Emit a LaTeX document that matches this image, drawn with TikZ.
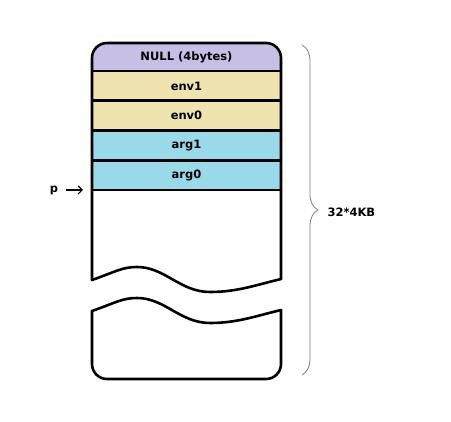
\documentclass[tikz,border=0pt]{standalone}
\usepackage{fontspec}
\setmainfont{DejaVu Sans}
\usetikzlibrary{positioning,arrows.meta,decorations.pathreplacing}
\definecolor{nullcol}{HTML}{C8BFE7}
\definecolor{envcol}{HTML}{EFE4B0}
\definecolor{argcol}{HTML}{99D9EA}

\begin{document}
\begin{tikzpicture}[x=1pt,y=-1pt]
      \tikzset{
        node distance=29.75pt,
        every node/.style={font=\fontsize{11.5}{13}\selectfont\bfseries},
        cell/.style={rectangle,draw,line width=2.6pt,outer sep=0pt,inner sep=0pt,minimum width=189pt,minimum height=29.75pt},
        outline/.style={line width=2.6pt,line join=round,line cap=round}
      }
      \useasboundingbox (0,0) rectangle (451,422);

      \fill[nullcol,rounded corners=15pt] (92,71) -- (92,43) -- (281,43) -- (281,71);
      \node (null) at (186.5,57) {NULL (4bytes)};

      \node[cell,fill=envcol] (env1) at (186.5,85.9) {env1};
      \node[cell,fill=envcol,below of=env1] (env0) {env0};
      \node[cell,fill=argcol,below of=env0] (arg1) {arg1};
      \node[cell,fill=argcol,below of=arg1] (arg0) {arg0};

      % upper part of the stack, torn at the bottom
      \draw[outline,rounded corners=15pt] (281,279) -- (281,43) -- (92,43) -- (92,280);
      \draw[outline] (92,280) .. controls (115,272) and (122,267) .. (137,267)
            .. controls (165,267) and (180,292) .. (210,292)
            .. controls (237,292) and (256,285) .. (281,279);

      % lower part of the stack
      \draw[outline,rounded corners=15pt] (92,311) -- (92,379) -- (281,379) -- (281,310);
      \draw[outline] (281,310) .. controls (256,316) and (237,323) .. (210,323)
            .. controls (180,323) and (165,298) .. (137,298)
            .. controls (122,298) and (115,303) .. (92,311);

      \node (p) at (54,190) {p};
      \coordinate (ptr) at (83,190);
      \draw[-{Straight Barb[length=4pt,width=8pt]},line width=1.2pt,shorten <=4pt] (p) -- (ptr);

      \coordinate (btop) at (302,45);
      \coordinate (bbot) at (302,375);
      \draw[gray,line width=0.8pt,decorate,decoration={brace,amplitude=16pt}] (btop) -- (bbot);
      \node[anchor=west] (size) at (324,212) {32*4KB};
    \end{tikzpicture}
\end{document}
